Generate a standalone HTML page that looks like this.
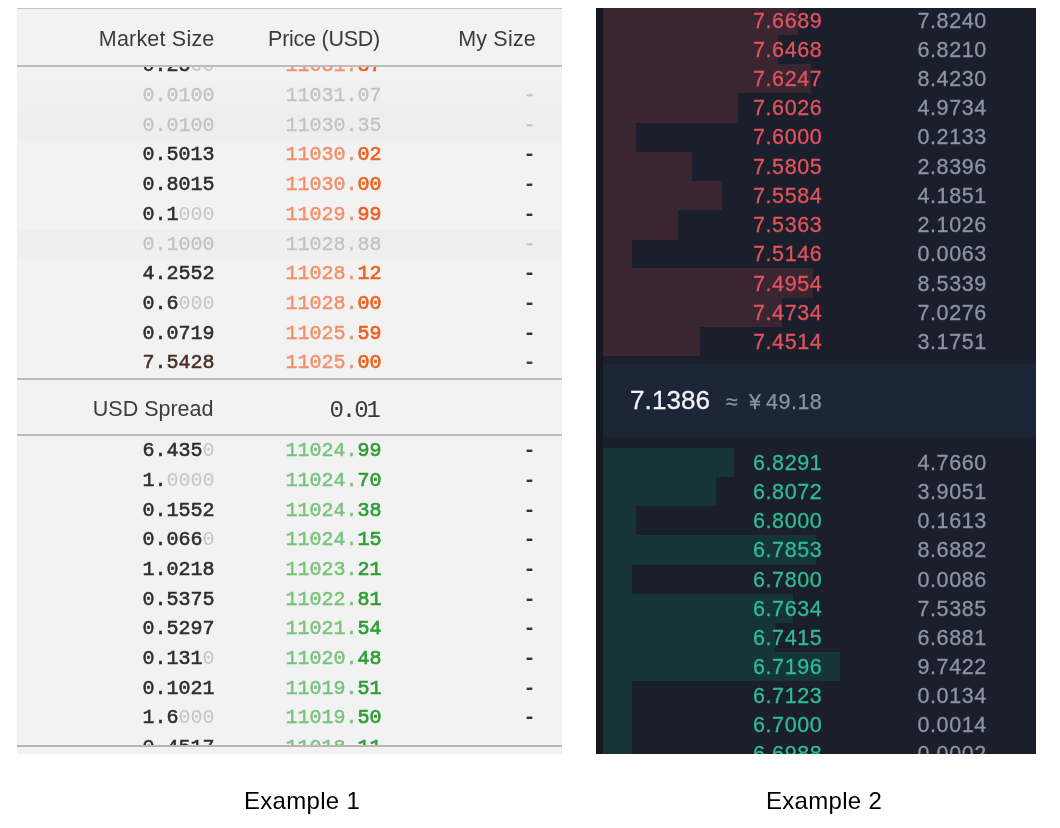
<!DOCTYPE html>
<html><head><meta charset="utf-8"><title>Order books</title>
<style>
*{margin:0;padding:0;box-sizing:border-box}
html,body{width:1060px;height:828px;background:#fff;overflow:hidden}
body{position:relative;font-family:"Liberation Sans",sans-serif;-webkit-font-smoothing:antialiased}
#L,#R,.cap{will-change:transform}
#L{position:absolute;left:17px;top:8px;width:545px;height:746px;background:#f2f2f2;overflow:hidden}
#L .top{position:absolute;left:0;top:0;width:100%;height:2px;background:#c4c4c4}
#L .hdr{position:absolute;left:0;top:1px;width:100%;height:57px;background:#f2f2f2;z-index:3;font-size:21.5px;color:#3b3b3b}
#L .hdr span{position:absolute;top:18.2px;line-height:24px;text-align:right;white-space:nowrap}
#L .hl{position:absolute;left:0;width:100%;height:2px;background:#bcbcbc;z-index:4}
.lr{position:absolute;left:0;width:100%;height:29.99px;line-height:29.69px;font-family:"Liberation Mono",monospace;font-size:20px;white-space:nowrap}
.lr span{position:absolute;top:0;text-align:right}
.lr i{font-style:normal}
.lr b{font-weight:normal;-webkit-text-stroke:0.55px currentColor}
.lr .c1{right:347.5px;color:#2e2e2e}
.lr .c1 i{color:#c4c4c4;font-weight:normal}
.lr .c2{right:180.5px}
.lr .c3{right:26.5px;font-weight:bold;color:#333}
.lr.last .c1{color:#4a2f2a}
.lr.first .c3{display:none}
.lr.last .c3{color:#5a3a30}
.ask .c2 i{color:#f4906a;font-weight:normal;-webkit-text-stroke:0.5px #f4906a}
.ask .c2 b{color:#f0601f;-webkit-text-stroke-width:0.7px}
.bid .c2 i{color:#78c37b;font-weight:normal;-webkit-text-stroke:0.5px #78c37b}
.bid .c2 b{color:#2f9e36;-webkit-text-stroke-width:0.7px}
.lr.gray .c1 i,.lr.gray .c2 i,.lr.gray .c2 b,.lr.gray .c3{color:#c2c2c2;font-weight:normal;-webkit-text-stroke:0.3px #c2c2c2}
#L .spread{position:absolute;left:0;top:371px;width:100%;height:56px;background:#f2f2f2;z-index:3}
#L .spread .a{position:absolute;right:348.5px;top:18px;font-size:21.5px;line-height:24px;color:#3b3b3b;letter-spacing:0px}
#L .spread .b{position:absolute;right:183px;top:18px;font-family:"Liberation Mono",monospace;font-size:24px;line-height:28px;color:#3b3b3b;letter-spacing:-2px}
#L .foot{position:absolute;left:0;top:737px;width:100%;height:9px;background:#f2f2f2;z-index:3;border-top:2px solid #b6b6b6}
#R{position:absolute;left:596px;top:8px;width:440px;height:746px;background:#1b1f2b;overflow:hidden;border-left:7px solid #15181f}
.rr{position:absolute;left:0;width:100%;height:29.53px;line-height:29.23px;font-size:21.5px;white-space:nowrap}
.rr .bar{position:absolute;left:0px;top:0;height:100%}
.ra .bar{background:#3a2631}
.rb .bar{background:#163538}
.rr span{position:absolute;top:1.1px;text-align:right;letter-spacing:0.6px;-webkit-text-stroke:0.3px currentColor}
.rr .p{right:213.7px}
.rr .s{right:49.2px;color:#8a95a8}
.ra .p{color:#e4525f}
.rb .p{color:#2ebd92}
#R .mid{position:absolute;left:0px;top:356px;width:433px;height:72.5px;background:#1d2636}
#R .mid .a{position:absolute;left:27px;top:20px;font-size:26px;line-height:32px;color:#f2f4f7;letter-spacing:0.1px;-webkit-text-stroke:0.3px currentColor}
#R .mid .b{position:absolute;top:22.5px;font-size:21.5px;line-height:30px;color:#8b94a6;white-space:pre;letter-spacing:0.5px;-webkit-text-stroke:0.25px currentColor}
.cap{position:absolute;top:786.8px;font-size:24px;line-height:28px;color:#000;white-space:nowrap;letter-spacing:0.3px}
</style></head><body>
<div id="L">
<div class="top"></div>
<div class="hdr"><span style="right:347.5px;letter-spacing:0.2px">Market Size</span><span style="right:182px;letter-spacing:-0.25px">Price (USD)</span><span style="right:26px;letter-spacing:0.2px">My Size</span></div>
<div class="hl" style="top:57px"></div>
<div class="lr ask first" style="top:43.37px;"><span class="c1"><b>0.25</b><i>00</i></span><span class="c2"><i>11031.</i><b>37</b></span><span class="c3">-</span></div>
<div class="lr ask gray" style="top:73.06px;background:#f0f0f0;"><span class="c1"><b></b><i>0.0100</i></span><span class="c2"><i>11031.</i><b>07</b></span><span class="c3">-</span></div>
<div class="lr ask gray" style="top:102.75px;background:#eeeeee;"><span class="c1"><b></b><i>0.0100</i></span><span class="c2"><i>11030.</i><b>35</b></span><span class="c3">-</span></div>
<div class="lr ask" style="top:132.44px;"><span class="c1"><b>0.5013</b><i></i></span><span class="c2"><i>11030.</i><b>02</b></span><span class="c3">-</span></div>
<div class="lr ask" style="top:162.13px;"><span class="c1"><b>0.8015</b><i></i></span><span class="c2"><i>11030.</i><b>00</b></span><span class="c3">-</span></div>
<div class="lr ask" style="top:191.82px;"><span class="c1"><b>0.1</b><i>000</i></span><span class="c2"><i>11029.</i><b>99</b></span><span class="c3">-</span></div>
<div class="lr ask gray" style="top:221.51px;background:#efefef;"><span class="c1"><b></b><i>0.1000</i></span><span class="c2"><i>11028.</i><b>88</b></span><span class="c3">-</span></div>
<div class="lr ask" style="top:251.19px;"><span class="c1"><b>4.2552</b><i></i></span><span class="c2"><i>11028.</i><b>12</b></span><span class="c3">-</span></div>
<div class="lr ask" style="top:280.88px;"><span class="c1"><b>0.6</b><i>000</i></span><span class="c2"><i>11028.</i><b>00</b></span><span class="c3">-</span></div>
<div class="lr ask" style="top:310.58px;"><span class="c1"><b>0.0719</b><i></i></span><span class="c2"><i>11025.</i><b>59</b></span><span class="c3">-</span></div>
<div class="lr ask last" style="top:340.26px;"><span class="c1"><b>7.5428</b><i></i></span><span class="c2"><i>11025.</i><b>00</b></span><span class="c3">-</span></div>
<div class="hl" style="top:369.5px"></div>
<div class="spread"><span class="a">USD Spread</span><span class="b">0.01</span></div>
<div class="hl" style="top:425.6px"></div>
<div class="lr bid" style="top:428.25px;"><span class="c1"><b>6.435</b><i>0</i></span><span class="c2"><i>11024.</i><b>99</b></span><span class="c3">-</span></div>
<div class="lr bid" style="top:457.94px;"><span class="c1"><b>1.</b><i>0000</i></span><span class="c2"><i>11024.</i><b>70</b></span><span class="c3">-</span></div>
<div class="lr bid" style="top:487.63px;"><span class="c1"><b>0.1552</b><i></i></span><span class="c2"><i>11024.</i><b>38</b></span><span class="c3">-</span></div>
<div class="lr bid" style="top:517.33px;"><span class="c1"><b>0.066</b><i>0</i></span><span class="c2"><i>11024.</i><b>15</b></span><span class="c3">-</span></div>
<div class="lr bid" style="top:547.01px;"><span class="c1"><b>1.0218</b><i></i></span><span class="c2"><i>11023.</i><b>21</b></span><span class="c3">-</span></div>
<div class="lr bid" style="top:576.71px;"><span class="c1"><b>0.5375</b><i></i></span><span class="c2"><i>11022.</i><b>81</b></span><span class="c3">-</span></div>
<div class="lr bid" style="top:606.39px;"><span class="c1"><b>0.5297</b><i></i></span><span class="c2"><i>11021.</i><b>54</b></span><span class="c3">-</span></div>
<div class="lr bid" style="top:636.09px;"><span class="c1"><b>0.131</b><i>0</i></span><span class="c2"><i>11020.</i><b>48</b></span><span class="c3">-</span></div>
<div class="lr bid" style="top:665.77px;"><span class="c1"><b>0.1021</b><i></i></span><span class="c2"><i>11019.</i><b>51</b></span><span class="c3">-</span></div>
<div class="lr bid" style="top:695.47px;"><span class="c1"><b>1.6</b><i>000</i></span><span class="c2"><i>11019.</i><b>50</b></span><span class="c3">-</span></div>
<div class="lr bid" style="top:725.15px;"><span class="c1"><b>0.4517</b><i></i></span><span class="c2"><i>11018.</i><b>11</b></span><span class="c3">-</span></div>
<div class="foot"></div>
</div>
<div id="R">
<div class="rr ra" style="top:-2.60px"><div class="bar" style="width:194.8px"></div><span class="p">7.6689</span><span class="s">7.8240</span></div>
<div class="rr ra" style="top:26.63px"><div class="bar" style="width:175.0px"></div><span class="p">7.6468</span><span class="s">6.8210</span></div>
<div class="rr ra" style="top:55.86px"><div class="bar" style="width:207.7px"></div><span class="p">7.6247</span><span class="s">8.4230</span></div>
<div class="rr ra" style="top:85.09px"><div class="bar" style="width:134.8px"></div><span class="p">7.6026</span><span class="s">4.9734</span></div>
<div class="rr ra" style="top:114.32px"><div class="bar" style="width:33.0px"></div><span class="p">7.6000</span><span class="s">0.2133</span></div>
<div class="rr ra" style="top:143.55px"><div class="bar" style="width:89.3px"></div><span class="p">7.5805</span><span class="s">2.8396</span></div>
<div class="rr ra" style="top:172.78px"><div class="bar" style="width:118.8px"></div><span class="p">7.5584</span><span class="s">4.1851</span></div>
<div class="rr ra" style="top:202.01px"><div class="bar" style="width:74.8px"></div><span class="p">7.5363</span><span class="s">2.1026</span></div>
<div class="rr ra" style="top:231.24px"><div class="bar" style="width:29.3px"></div><span class="p">7.5146</span><span class="s">0.0063</span></div>
<div class="rr ra" style="top:260.47px"><div class="bar" style="width:210.0px"></div><span class="p">7.4954</span><span class="s">8.5339</span></div>
<div class="rr ra" style="top:289.70px"><div class="bar" style="width:179.0px"></div><span class="p">7.4734</span><span class="s">7.0276</span></div>
<div class="rr ra" style="top:318.93px"><div class="bar" style="width:96.8px"></div><span class="p">7.4514</span><span class="s">3.1751</span></div>
<div class="mid"><span class="a">7.1386</span><span class="b" style="left:123px">≈</span><span class="b" style="left:146px">¥</span><span class="b" style="left:163px">49.18</span></div>
<div class="rr rb" style="top:439.90px;height:29.45px;line-height:29.15px"><div class="bar" style="width:131.2px"></div><span class="p">6.8291</span><span class="s">4.7660</span></div>
<div class="rr rb" style="top:469.05px;height:29.45px;line-height:29.15px"><div class="bar" style="width:113.1px"></div><span class="p">6.8072</span><span class="s">3.9051</span></div>
<div class="rr rb" style="top:498.20px;height:29.45px;line-height:29.15px"><div class="bar" style="width:33.0px"></div><span class="p">6.8000</span><span class="s">0.1613</span></div>
<div class="rr rb" style="top:527.35px;height:29.45px;line-height:29.15px"><div class="bar" style="width:213.4px"></div><span class="p">6.7853</span><span class="s">8.6882</span></div>
<div class="rr rb" style="top:556.50px;height:29.45px;line-height:29.15px"><div class="bar" style="width:29.3px"></div><span class="p">6.7800</span><span class="s">0.0086</span></div>
<div class="rr rb" style="top:585.65px;height:29.45px;line-height:29.15px"><div class="bar" style="width:189.6px"></div><span class="p">6.7634</span><span class="s">7.5385</span></div>
<div class="rr rb" style="top:614.80px;height:29.45px;line-height:29.15px"><div class="bar" style="width:171.5px"></div><span class="p">6.7415</span><span class="s">6.6881</span></div>
<div class="rr rb" style="top:643.95px;height:29.45px;line-height:29.15px"><div class="bar" style="width:237.2px"></div><span class="p">6.7196</span><span class="s">9.7422</span></div>
<div class="rr rb" style="top:673.10px;height:29.45px;line-height:29.15px"><div class="bar" style="width:29.3px"></div><span class="p">6.7123</span><span class="s">0.0134</span></div>
<div class="rr rb" style="top:702.25px;height:29.45px;line-height:29.15px"><div class="bar" style="width:29.3px"></div><span class="p">6.7000</span><span class="s">0.0014</span></div>
<div class="rr rb" style="top:731.40px;height:29.45px;line-height:29.15px"><div class="bar" style="width:29.3px"></div><span class="p">6.6988</span><span class="s">0.0002</span></div>
</div>
<div class="cap" style="left:244.3px">Example 1</div>
<div class="cap" style="left:765.8px">Example 2</div>
</body></html>
